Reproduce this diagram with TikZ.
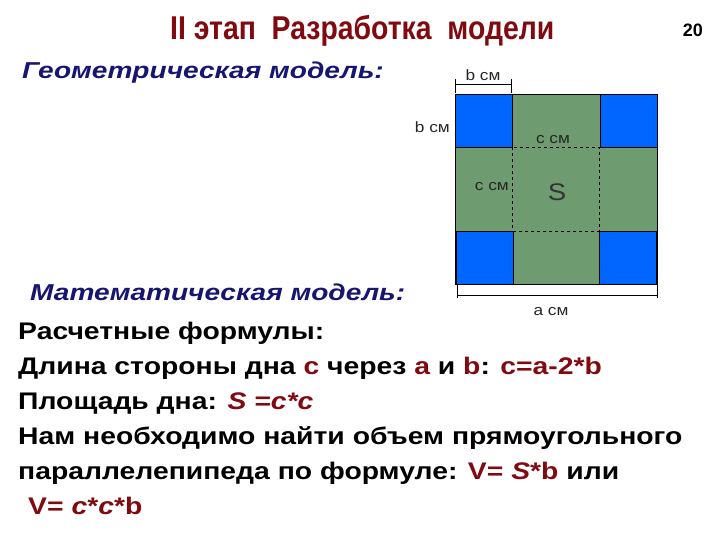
\documentclass[tikz,border=0pt]{standalone}
\usepackage{fontspec}
\setmainfont{Liberation Sans}
\usetikzlibrary{positioning, calc}

\definecolor{sheet}{RGB}{110,156,112}
\definecolor{corner}{RGB}{0,102,255}
\definecolor{formred}{RGB}{128,10,16}
\definecolor{headnavy}{RGB}{22,22,112}

\tikzset{
  cut/.style={draw=black, fill=corner, minimum width=57pt, minimum height=53pt, inner sep=0pt},
  dim/.style={font=\fontsize{15}{18}\selectfont, inner sep=0pt, text=black!85, xscale=1.15},
  body/.style={anchor=base west, inner sep=0pt, xscale=1.18, font=\bfseries\fontsize{24}{28}\selectfont},
  head/.style={anchor=base west, inner sep=0pt, xscale=1.22, text=headnavy, font=\bfseries\itshape\fontsize{23}{26}\selectfont},
}

\begin{document}
\begin{tikzpicture}[x=1pt, y=-1pt]
    \useasboundingbox (0,0) rectangle (720,540);

    % title
    \node (title) [anchor=base west, inner sep=0pt, text=formred, xscale=0.86,
        font=\bfseries\fontsize{33}{36}\selectfont] at (170,40) {II этап\ \ Разработка\ \ модели};
    \node (page) [anchor=base east, inner sep=0pt, font=\bfseries\fontsize{18}{20}\selectfont] at (703,37) {20};

    % sheet with cut corners
    \node (sheet) [draw=black, fill=sheet, minimum width=202pt, minimum height=190pt, inner sep=0pt,
        anchor=north west] at (455,94) {};
    \node (tl) [cut, anchor=north west] at (sheet.north west) {};
    \node (tr) [cut, anchor=north east] at (sheet.north east) {};
    \node (bl) [cut, anchor=south west] at ([xshift=1pt]sheet.south west) {};
    \node (br) [cut, anchor=south east] at ([xshift=-1pt]sheet.south east) {};
    \draw [dashed] (tl.south east) rectangle (br.north west);

    \node (S) [font=\fontsize{24}{28}\selectfont, text=black!80, xscale=1.15] at (557,192) {S};
    \node (ctop) [dim] at (553,140) {c см};
    \node (cleft) [dim, anchor=east] at (509,187) {c см};
    \node (bleft) [dim, anchor=east] at (450,127) {b см};

    % dimension lines
    \coordinate (b1) at (455,84);
    \coordinate (b2) at (511,84);
    \draw (b1) -- (b2);
    \draw ([yshift=5pt]b1) -- ([yshift=-9pt]b1);
    \draw ([yshift=5pt]b2) -- ([yshift=-9pt]b2);
    \node (btop) [dim, above=3pt of $(b1)!0.5!(b2)$] {b см};

    \coordinate (a1) at (457,295);
    \coordinate (a2) at (657,295);
    \draw (a1) -- (a2);
    \draw ([yshift=11pt]a1) -- ([yshift=-3pt]a1);
    \draw ([yshift=11pt]a2) -- ([yshift=-3pt]a2);
    \node (abot) [dim] at (551,312) {a см};

    % text
    \node (geo) [head] at (22,79) {Геометрическая модель:};
    \node (math) [head] at (30,300) {Математическая модель:};
    \node (l1) [body] at (18,339) {Расчетные формулы:};
    \node (l2) [body] at (18,374) {Длина стороны дна \textcolor{formred}{c} через \textcolor{formred}{a} и \textcolor{formred}{b}: \textcolor{formred}{c=a-2*b}};
    \node (l3) [body] at (18,409) {Площадь дна: \textcolor{formred}{\itshape S =c*c}};
    \node (l4) [body] at (18,444) {Нам необходимо найти объем прямоугольного};
    \node (l5) [body] at (18,479) {параллелепипеда по формуле: \textcolor{formred}{V= {\itshape S}*b} или};
    \node (l6) [body] at (28,514) {\textcolor{formred}{V= {\itshape c}*{\itshape c}*b}};
\end{tikzpicture}
\end{document}
